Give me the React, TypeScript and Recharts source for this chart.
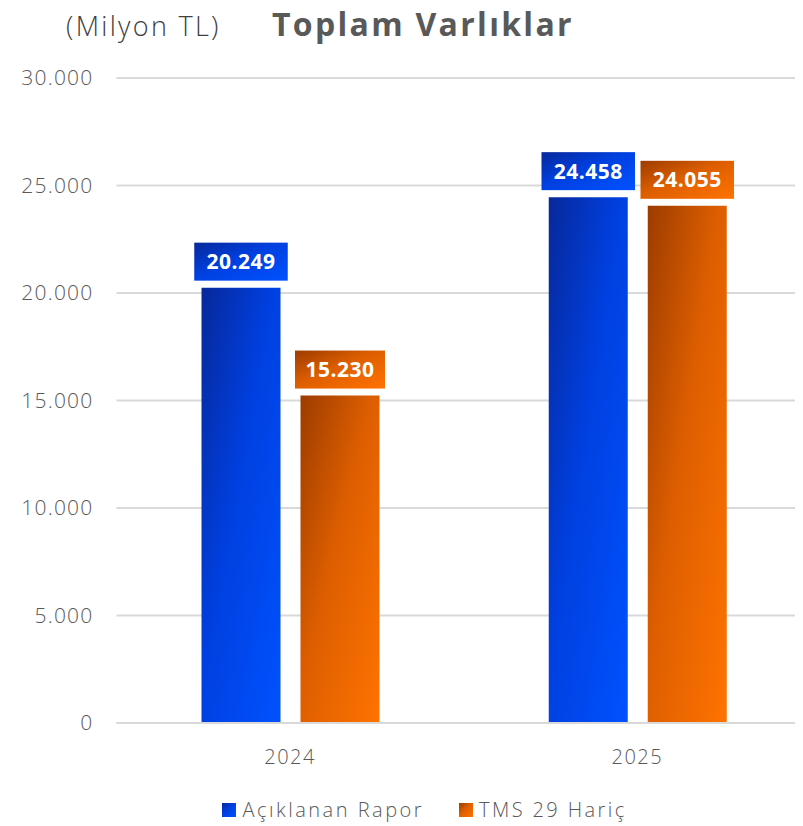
import React from "react";
import { BarChart, Bar, XAxis, YAxis, CartesianGrid, Legend } from "recharts";

const categories = ["2024", "2025"];
const aciklananRapor = [20249, 24458];
const tms29Haric = [15230, 24055];
const yTicks = [0, 5000, 10000, 15000, 20000, 25000, 30000];

const data = categories.map((c, i) => ({ year: c, a: aciklananRapor[i], b: tms29Haric[i] }));

const FONT = "'Open Sans', 'Noto Sans', sans-serif";

const fmt = (v: number) => v.toLocaleString("de-DE");

const charW = (s: string) => {
  let w = 0;
  for (const ch of s) w += ch === "." ? 6 : ch === "1" ? 10 : 13.5;
  return w;
};

const makeLabel = (gradId: string) => (props: any) => {
  const { x, y, width, value } = props;
  const txt = fmt(Number(value));
  const w = charW(txt) + 20;
  const h = 38;
  const cx = Number(x) + Number(width) / 2;
  const bottom = Number(y) - 7;
  return (
    <g>
      <rect x={cx - w / 2} y={bottom - h} width={w} height={h} fill={`url(#${gradId})`} />
      <text x={cx} y={bottom - h / 2} dy="0.36em" textAnchor="middle" fill="#fff" fontSize={21} fontWeight={700} fontFamily={FONT} letterSpacing={0.5}>
        {txt}
      </text>
    </g>
  );
};

const LegendContent = () => (
  <div style={{ display: "flex", justifyContent: "center", alignItems: "center", fontFamily: FONT, fontSize: 20, color: "#595959", paddingTop: 10, paddingLeft: 30, fontWeight: 300 }}>
    <span style={{ display: "inline-block", width: 14, height: 14, background: "linear-gradient(135deg,#07289a,#0040e0 45%,#0052ff)", marginRight: 6 }} />
    <span style={{ marginRight: 35, letterSpacing: 2.5 }}>Açıklanan Rapor</span>
    <span style={{ display: "inline-block", width: 14, height: 14, background: "linear-gradient(135deg,#9c3c00,#dd5e00 45%,#ff7300)", marginRight: 6 }} />
    <span style={{ letterSpacing: 2.4 }}>TMS 29 Hariç</span>
  </div>
);

export default function App() {
  return (
    <div style={{ position: "relative", width: 810, height: 818 }}>
      <div style={{ position: "absolute", left: 58, top: -1, fontFamily: FONT, fontSize: 27, color: "#404040", fontWeight: 300, letterSpacing: 2.3 }}>(Milyon TL)</div>
      <div style={{ position: "absolute", left: 264, top: -6, fontFamily: FONT, fontSize: 32, color: "#595959", fontWeight: 700, letterSpacing: 2.3 }}>Toplam Varlıklar</div>
      <BarChart width={810} height={818} data={data} margin={{ top: 70, right: 7, left: 0, bottom: 0 }} barGap={20} barSize={79}>
        <defs>
          <linearGradient id="gBlue" x1="0" y1="0" x2="1" y2="1">
            <stop offset="0%" stopColor="#07289a" />
            <stop offset="45%" stopColor="#0040e0" />
            <stop offset="100%" stopColor="#0052ff" />
          </linearGradient>
          <linearGradient id="gOrange" x1="0" y1="0" x2="1" y2="1">
            <stop offset="0%" stopColor="#9c3c00" />
            <stop offset="45%" stopColor="#dd5e00" />
            <stop offset="100%" stopColor="#ff7300" />
          </linearGradient>
        </defs>
        <CartesianGrid vertical={false} stroke="#d9d9d9" strokeWidth={2} />
        <XAxis dataKey="year" axisLine={{ stroke: "#d9d9d9", strokeWidth: 2 }} tickLine={false} tickSize={0} tickMargin={27} height={63}
          tick={{ fontSize: 20, fill: "#595959", fontFamily: FONT, fontWeight: 300, letterSpacing: 1.5 }} />
        <YAxis domain={[0, 30000]} ticks={yTicks} axisLine={false} tickLine={false} tickSize={0} tickMargin={23} width={108.5}
          tickFormatter={(v: number) => fmt(v)} tick={{ fontSize: 21, fill: "#595959", fontFamily: FONT, fontWeight: 300, letterSpacing: 1.2 }} />
        <Legend verticalAlign="bottom" height={40} content={<LegendContent />} />
        <Bar dataKey="a" name="Açıklanan Rapor" fill="url(#gBlue)" isAnimationActive={false} label={makeLabel("gBlue")} />
        <Bar dataKey="b" name="TMS 29 Hariç" fill="url(#gOrange)" isAnimationActive={false} label={makeLabel("gOrange")} />
      </BarChart>
    </div>
  );
}
